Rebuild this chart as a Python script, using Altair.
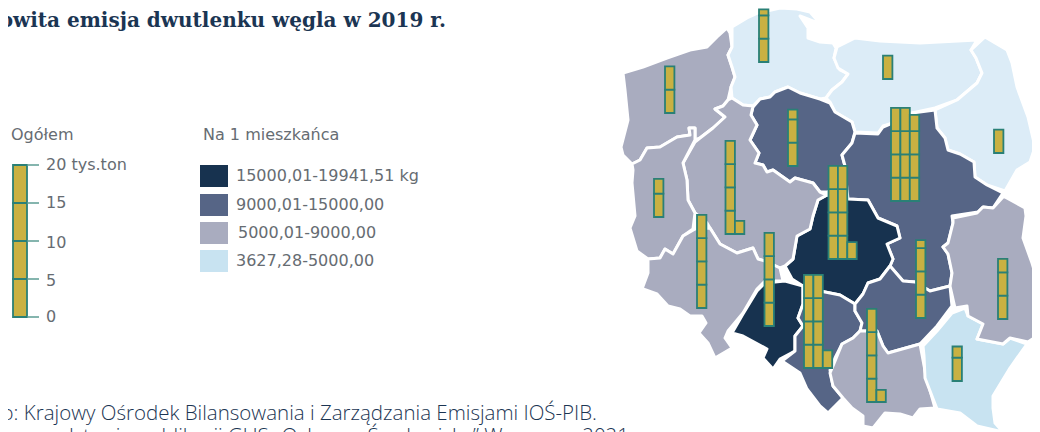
import altair as alt
import pandas as pd

NAVY, SLATE, GRAY, PALE, LIGHT = "#17324f", "#566586", "#a9acbf", "#dcecf7", "#c8e3f1"

REGIONS = {
 "zachodniopomorskie": (GRAY, [(623,73),(643,67),(667,58),(690,50),(707,47),(717,37),(727,28),(730,33),(732,47),(728,55),(732,67),(735,77),(731,87),(728,100),(723,106),(715,109),(725,117),(713,128),(700,138),(695,140),(695,128),(689,128),(690,135),(677,137),(660,147),(647,148),(640,160),(632,164),(623,155),(621,147),(628,120),(625,90)]),
 "pomorskie": (PALE, [(732,27),(747,18),(758,13),(780,8),(797,9),(810,12),(817,20),(818,23),(800,16),(808,28),(808,38),(820,42),(833,43),(836,48),(834,58),(840,70),(848,74),(842,82),(832,90),(826,98),(820,99),(800,93),(788,87),(775,92),(770,97),(760,99),(753,106),(743,105),(732,98),(731,87),(735,77),(732,67),(728,55),(732,47)]),
 "warminsko-mazurskie": (PALE, [(837,47),(845,43),(855,38),(880,41),(920,43),(977,40),(971,50),(976,58),(982,73),(977,83),(957,100),(935,108),(912,113),(890,124),(883,126),(878,133),(855,132),(852,122),(835,112),(830,102),(826,98),(832,90),(842,82),(848,74),(838,68),(834,58)]),
 "podlaskie": (PALE, [(985,37),(1007,50),(1012,63),(1017,87),(1028,117),(1035,147),(1030,162),(1017,170),(1005,191),(987,185),(975,177),(974,162),(960,154),(948,150),(945,138),(937,128),(935,110),(957,100),(977,83),(982,73),(976,58),(971,50)]),
 "kujawsko-pomorskie": (SLATE, [(753,107),(760,99),(770,97),(775,92),(788,87),(800,93),(820,99),(830,103),(835,112),(852,122),(855,132),(852,143),(842,155),(845,166),(845,180),(835,190),(827,192),(820,192),(813,183),(795,178),(790,182),(773,170),(767,172),(763,165),(755,163),(759,153),(750,140),(757,125),(751,115)]),
 "mazowieckie": (SLATE, [(855,133),(878,134),(883,127),(890,124),(912,113),(935,110),(937,128),(945,138),(948,150),(960,154),(974,162),(975,177),(987,185),(1003,193),(993,208),(983,207),(978,212),(952,216),(953,223),(948,243),(943,247),(948,254),(952,273),(950,286),(930,291),(915,282),(903,281),(890,266),(893,259),(887,244),(900,238),(897,226),(878,218),(868,200),(848,199),(846,180),(845,166),(842,155),(852,143)]),
 "lodzkie": (NAVY, [(827,195),(848,199),(868,200),(878,218),(897,226),(900,238),(887,244),(893,259),(890,266),(880,279),(868,283),(863,294),(855,304),(840,295),(830,293),(820,291),(803,286),(792,279),(785,266),(793,259),(797,236),(810,229),(813,216),(818,200)]),
 "wielkopolskie": (GRAY, [(732,98),(743,105),(753,106),(751,115),(757,125),(750,140),(759,153),(755,163),(763,165),(767,172),(773,170),(790,182),(795,178),(813,183),(820,192),(827,195),(818,200),(813,216),(810,229),(797,236),(793,259),(785,266),(780,268),(765,261),(758,259),(753,248),(737,253),(720,244),(710,228),(707,223),(695,213),(688,200),(687,180),(683,163),(695,142),(700,138),(713,128),(725,117),(715,109),(723,106),(728,100)]),
 "lubuskie": (GRAY, [(632,164),(640,160),(647,148),(660,147),(677,137),(690,135),(689,128),(695,128),(695,140),(683,163),(687,180),(688,200),(695,213),(693,229),(683,236),(673,254),(665,249),(660,258),(648,259),(637,251),(630,228),(635,216),(632,183),(633,170)]),
 "dolnoslaskie": (GRAY, [(648,259),(648,273),(642,289),(637,298),(643,289),(657,294),(668,306),(680,309),(690,316),(702,316),(706,323),(699,333),(708,343),(715,358),(732,348),(725,338),(728,331),(743,313),(757,289),(765,281),(783,281),(780,268),(765,261),(758,259),(753,248),(737,253),(720,244),(710,228),(695,229),(683,236),(673,254),(665,249),(660,258)]),
 "opolskie": (NAVY, [(732,333),(743,336),(767,349),(763,358),(773,369),(780,359),(795,351),(795,336),(803,326),(798,318),(803,304),(803,286),(785,281),(765,283),(757,291),(743,314)]),
 "slaskie": (SLATE, [(803,286),(820,291),(830,293),(840,295),(855,304),(855,311),(862,323),(860,331),(853,338),(842,344),(835,358),(830,370),(833,386),(843,398),(828,413),(820,406),(807,389),(800,373),(782,361),(795,351),(795,336),(803,326),(798,318),(803,304)]),
 "swietokrzyskie": (SLATE, [(890,266),(903,281),(915,282),(930,291),(950,286),(952,306),(937,326),(920,344),(888,353),(883,346),(877,331),(860,331),(862,323),(855,311),(855,304),(863,294),(868,283),(880,279)]),
 "malopolskie": (GRAY, [(833,366),(842,344),(853,338),(860,331),(877,331),(883,346),(888,353),(920,344),(926,376),(935,408),(920,409),(913,418),(900,414),(885,413),(873,428),(863,426),(863,416),(852,408),(843,398),(833,386),(830,373)]),
 "podkarpackie": (LIGHT, [(923,346),(937,331),(952,313),(965,308),(968,316),(983,324),(977,339),(1003,344),(1010,338),(1027,344),(1010,368),(993,396),(993,408),(995,423),(1003,432),(977,426),(960,413),(937,409),(925,378),(924,356)]),
 "lubelskie": (GRAY, [(1005,197),(1025,208),(1026,216),(1023,238),(1032,263),(1040,290),(1040,334),(1028,342),(1010,338),(1003,344),(977,339),(983,324),(968,316),(967,306),(955,308),(950,286),(952,273),(948,254),(943,247),(948,243),(953,223),(953,218),(977,213),(983,207),(993,208),(1003,197)]),
}

# region, left edge, base line, emission per column (thousand tons)
BARS = [
 ("zachodniopomorskie", 665, 113, [10.0]),
 ("pomorskie", 759, 62, [11.3]),
 ("warminsko-mazurskie", 883, 79, [5.0]),
 ("podlaskie", 994, 153, [5.0]),
 ("kujawsko-pomorskie", 788, 166, [12.1]),
 ("mazowieckie", 891, 201, [20, 20, 18.5]),
 ("wielkopolskie", 725.5, 234, [20, 2.8]),
 ("lubuskie", 654, 217, [8.2]),
 ("dolnoslaskie", 697, 308, [20]),
 ("opolskie", 764.5, 326, [20]),
 ("lodzkie", 828.5, 259, [20, 20, 3.6]),
 ("slaskie", 804, 368, [20, 20, 3.8]),
 ("swietokrzyskie", 916, 318, [16.7]),
 ("malopolskie", 867, 402, [20, 2.6]),
 ("lubelskie", 998, 319, [12.9]),
 ("podkarpackie", 952.5, 381, [7.4]),
]
COL_W = 9.4
PX_PER_KT = 4.66
UNIT = 5

LEG_TICKS = [0, 5, 10, 15, 20]
LEG_LABELS = ["0", "5", "10", "15", "20 tys.ton"]
LEG_LABEL_Y = [317, 281, 243, 203, 165]
LEG_X0, LEG_X1, LEG_BASE, LEG_PX = 13, 27, 317, 7.6

SWATCH_COLORS = [NAVY, SLATE, GRAY, LIGHT]
SWATCH_LABELS = ["15000,01-19941,51 kg", "9000,01-15000,00", "5000,01-9000,00", "3627,28-5000,00"]
SWATCH_TOP = [165, 194, 222, 250]
SWATCH_X = [236, 236, 238, 236]

TITLE = "Całkowita emisja dwutlenku węgla w 2019 r."
SOURCE1 = "Źródło: Krajowy Ośrodek Bilansowania i Zarządzania Emisjami IOŚ-PIB."
SOURCE2 = "Opracowanie na podstawie publikacji GUS „Ochrona Środowiska” Warszawa 2021"

FILL_BAR, STROKE_BAR = "#c9b142", "#2a8076"
TXT, TXT_DARK = "#666c72", "#1b3553"

W, H = 1024, 424
X = alt.X("x:Q", scale=alt.Scale(domain=[8, 8 + W], range=[0, W]), axis=None)
Y = alt.Y("y:Q", scale=alt.Scale(domain=[8, 8 + H], range=[0, H]), axis=None)

features = [
    {"type": "Feature", "properties": {"name": k, "color": c},
     "geometry": {"type": "Polygon", "coordinates": [[list(p) for p in pts] + [list(pts[0])]]}}
    for k, (c, pts) in REGIONS.items()
]
map_layer = alt.Chart(alt.Data(values=features)).mark_geoshape(
    stroke="white", strokeWidth=3, strokeJoin="round"
).encode(
    color=alt.Color("properties.color:N", scale=None)
).project(type="identity", scale=1, translate=[-8, -8])

cells = []
for name, x0, base, cols in BARS:
    for i, total in enumerate(cols):
        lo = 0.0
        while lo < total - 1e-9:
            hi = min(lo + UNIT, total)
            cells.append(dict(region=name, x=x0 + i * COL_W, x2=x0 + (i + 1) * COL_W,
                              y=base - lo * PX_PER_KT, y2=base - hi * PX_PER_KT))
            lo = hi
for a, b in zip(LEG_TICKS[:-1], LEG_TICKS[1:]):
    cells.append(dict(region="legend", x=LEG_X0, x2=LEG_X1,
                      y=LEG_BASE - a * LEG_PX, y2=LEG_BASE - b * LEG_PX))

cell_layer = alt.Chart(pd.DataFrame(cells)).mark_rect(
    fill=FILL_BAR, stroke=STROKE_BAR, strokeWidth=1.8
).encode(x=X, x2="x2:Q", y=Y, y2="y2:Q")

ticks = pd.DataFrame([dict(x=LEG_X1, x2=39, y=LEG_BASE - t * LEG_PX) for t in LEG_TICKS])
tick_layer = alt.Chart(ticks).mark_rule(stroke="#5d9c93", strokeWidth=1.5).encode(x=X, x2="x2:Q", y=Y)

swatches = pd.DataFrame([dict(x=200, x2=228, y=t, y2=t + 22, c=c) for t, c in zip(SWATCH_TOP, SWATCH_COLORS)])
swatch_layer = alt.Chart(swatches).mark_rect().encode(
    x=X, x2="x2:Q", y=Y, y2="y2:Q", color=alt.Color("c:N", scale=None))

body = pd.DataFrame(
    [dict(x=11, y=135, t="Ogółem"), dict(x=203, y=135, t="Na 1 mieszkańca")]
    + [dict(x=46, y=y, t=t) for y, t in zip(LEG_LABEL_Y, LEG_LABELS)]
    + [dict(x=x, y=t + 11, t=s) for x, t, s in zip(SWATCH_X, SWATCH_TOP, SWATCH_LABELS)]
)
body_layer = alt.Chart(body).mark_text(
    align="left", baseline="middle", font="DejaVu Sans", fontSize=16, color=TXT
).encode(x=X, y=Y, text="t:N")

title_layer = alt.Chart(pd.DataFrame([dict(x=446, y=21, t=TITLE)])).mark_text(
    align="right", baseline="middle", font="DejaVu Serif", fontSize=20, fontWeight="bold", color=TXT_DARK
).encode(x=X, y=Y, text="t:N")

source = pd.DataFrame([dict(x=597, y=414, t=SOURCE1), dict(x=629, y=437, t=SOURCE2)])
source_layer = alt.Chart(source).mark_text(
    align="right", baseline="middle", font="Open Sans", fontSize=20.5, fontWeight=300, color=TXT_DARK
).encode(x=X, y=Y, text="t:N")

chart = alt.layer(
    map_layer, cell_layer, tick_layer, swatch_layer, body_layer, title_layer, source_layer
).properties(width=W, height=H, padding=0, autosize=alt.AutoSizeParams(type="none")
).configure_view(stroke=None)

chart.save("out.html", embed_options={"renderer": "svg", "actions": False})
